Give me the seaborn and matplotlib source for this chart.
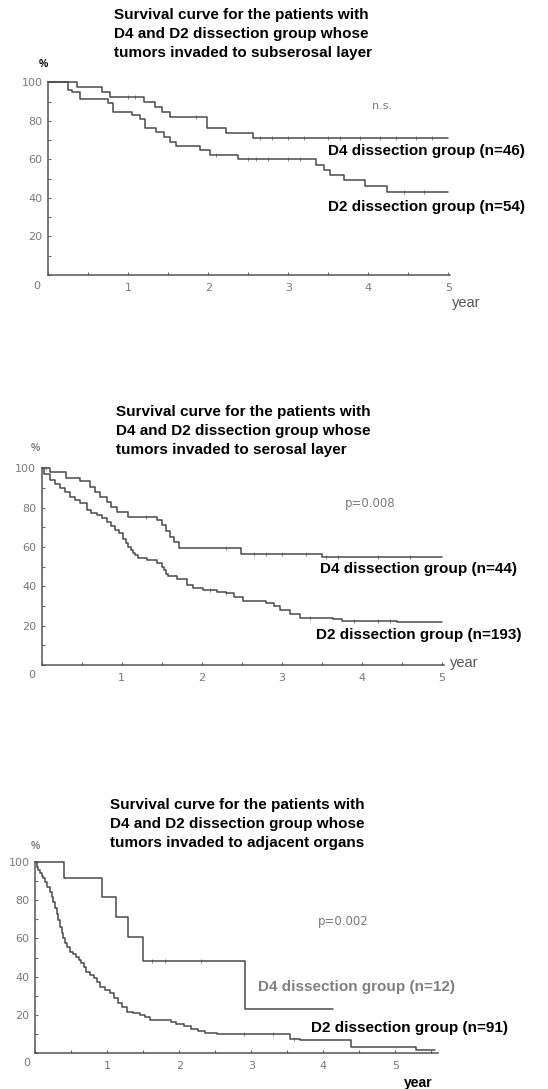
import matplotlib
matplotlib.use('Agg')
import matplotlib.pyplot as plt
import numpy as np
import seaborn as sns
from matplotlib.ticker import MultipleLocator

W, H = 548, 1089
LINE = '#4a4a4a'
GRAY = '#7a7a7a'

# panel 1 : subserosal layer
p1_d4_t = [0, 0.36, 0.67, 0.77, 1.19, 1.33, 1.42, 1.52, 1.98, 2.22, 2.56, 5.0]
p1_d4_s = [100, 97.7, 95.1, 92.5, 89.9, 87.3, 84.7, 82.2, 76.4, 73.8, 70.9, 70.9]
p1_d4_cens = [1.0, 1.08, 1.85, 2.65, 2.8, 3.0, 3.2, 3.5, 3.65, 3.9, 4.15, 4.35, 4.6, 4.8]
p1_d2_t = [0, 0.25, 0.29, 0.40, 0.74, 0.81, 1.04, 1.15, 1.21, 1.35, 1.44, 1.52, 1.60,
           1.90, 2.02, 2.37, 3.35, 3.45, 3.52, 3.69, 3.96, 4.23, 5.0]
p1_d2_s = [100, 96.0, 94.8, 91.2, 89.4, 84.4, 83.0, 80.8, 76.1, 74.4, 71.8, 69.2, 66.9,
           64.8, 62.3, 60.0, 57.1, 54.5, 51.9, 49.3, 46.2, 42.9, 42.9]
p1_d2_cens = [2.1, 2.5, 2.6, 2.75, 3.0, 3.15, 4.45, 4.7]

# panel 2 : serosal layer
p2_d4_t = [0, 0.10, 0.30, 0.48, 0.60, 0.67, 0.73, 0.81, 0.87, 0.94, 1.08, 1.44, 1.50,
           1.55, 1.60, 1.65, 1.72, 2.49, 3.5, 5.0]
p2_d4_s = [100, 98.0, 95.2, 93.5, 90.7, 88.1, 85.6, 83.0, 80.5, 77.6, 75.4, 73.7, 71.2,
           68.1, 65.2, 62.4, 59.6, 56.3, 55.1, 55.1]
p2_d4_cens = [0.05, 1.3, 2.3, 2.65, 2.8, 3.0, 3.3, 3.55, 3.7, 4.2, 4.6]
p2_d2_t = [0, 0.03, 0.10, 0.17, 0.23, 0.29, 0.35, 0.42, 0.48, 0.56, 0.62, 0.69, 0.75,
           0.81, 0.87, 0.92, 0.97, 1.02, 1.05, 1.08, 1.11, 1.14, 1.17, 1.20, 1.31, 1.44,
           1.50, 1.53, 1.55, 1.58, 1.69, 1.81, 1.89, 2.02, 2.19, 2.30, 2.40, 2.52, 2.80,
           2.90, 2.98, 3.10, 3.23, 3.64, 3.75, 4.44, 5.0]
p2_d2_s = [100, 97.0, 94.0, 92.0, 89.8, 87.7, 85.6, 84.0, 82.2, 78.8, 77.5, 76.3, 74.6,
           72.9, 70.8, 68.6, 66.9, 64.0, 62.0, 60.0, 58.5, 57.0, 55.8, 54.6, 53.4, 51.7,
           50.0, 48.3, 46.5, 45.3, 43.7, 40.7, 39.0, 38.1, 37.3, 36.4, 34.8, 32.7, 31.5,
           30.0, 28.0, 25.8, 24.0, 23.4, 22.5, 21.7, 21.7]
p2_d2_cens = [2.1, 2.3, 3.35, 3.9, 4.2, 4.35]

# panel 3 : adjacent organs
p3_d4_t = [0, 0.40, 0.92, 1.12, 1.29, 1.49, 2.91, 4.14]
p3_d4_s = [100, 91.6, 81.9, 71.1, 60.9, 48.3, 23.0, 23.0]
p3_d4_cens = [1.62, 1.8, 2.3]
p3_d2_t = [0, 0.02, 0.04, 0.06, 0.09, 0.11, 0.13, 0.16, 0.20, 0.23, 0.25, 0.27, 0.30,
           0.32, 0.34, 0.37, 0.39, 0.41, 0.44, 0.48, 0.52, 0.57, 0.61, 0.64, 0.68, 0.71,
           0.76, 0.81, 0.86, 0.90, 0.97, 1.04, 1.09, 1.15, 1.20, 1.27, 1.36, 1.45, 1.52,
           1.59, 1.88, 1.96, 2.06, 2.16, 2.26, 2.36, 2.52, 3.54, 3.68, 4.39, 5.29, 5.55]
p3_d2_s = [100, 97.7, 96.0, 94.2, 92.9, 91.6, 89.5, 87.2, 84.5, 81.9, 79.0, 75.8, 72.7,
           69.7, 66.2, 62.7, 60.0, 57.5, 55.3, 53.1, 51.8, 50.5, 48.8, 47.0, 44.8, 42.6,
           40.8, 39.1, 36.9, 34.7, 33.0, 31.3, 28.6, 26.0, 23.8, 21.6, 20.7, 19.8, 18.5,
           17.2, 16.2, 15.2, 13.9, 12.6, 11.4, 10.4, 9.7, 7.0, 6.7, 3.2, 1.5, 1.5]
p3_d2_cens = [2.9, 3.3, 3.6]

y_ticks = [20, 40, 60, 80, 100]
x_ticks = [1, 2, 3, 4, 5]

titles = [
    ['Survival curve for the patients with', 'D4 and D2 dissection group whose',
     'tumors invaded to subserosal layer'],
    ['Survival curve for the patients with', 'D4 and D2 dissection group whose',
     'tumors invaded to serosal layer'],
    ['Survival curve for the patients with', 'D4 and D2 dissection group whose',
     'tumors invaded to adjacent organs'],
]

sns.set_theme(style='white')
plt.rcParams['font.family'] = ['Liberation Sans', 'DejaVu Sans']


def px(x, y):
    return x / W, 1 - y / H


def surv_at(t, s, times):
    idx = np.searchsorted(t, times, side='right') - 1
    return np.asarray(s)[idx]


def draw_curve(ax, t, s, cens):
    sns.lineplot(x=t, y=s, ax=ax, drawstyle='steps-post', color=LINE, lw=1.1,
                 estimator=None, sort=False, clip_on=False)
    sns.scatterplot(x=cens, y=surv_at(t, s, cens), ax=ax, marker='|', s=6,
                    color='#777777', linewidth=0.6, clip_on=False)


def setup_axes(ax, xmax):
    ax.set_xlim(0, xmax)
    ax.set_ylim(0, 100)
    for side in ['top', 'right']:
        ax.spines[side].set_visible(False)
    for side in ['left', 'bottom']:
        ax.spines[side].set_color('#555555')
        ax.spines[side].set_linewidth(1.1)
    ax.set_xticks(x_ticks)
    ax.set_yticks(y_ticks)
    ax.xaxis.set_minor_locator(MultipleLocator(0.5))
    ax.yaxis.set_minor_locator(MultipleLocator(10))
    ax.tick_params(which='both', direction='in', length=2.5, width=0.8, color='#666666',
                   labelcolor=GRAY, labelsize=8, bottom=True, left=True)
    ax.tick_params(axis='x', pad=6)
    ax.tick_params(axis='y', pad=4)
    for lab in ax.get_xticklabels() + ax.get_yticklabels():
        lab.set_family('DejaVu Sans')
    ax.set_xlabel('')
    ax.set_ylabel('')


fig = plt.figure(figsize=(W / 100, H / 100), dpi=100)

# axes rectangles from pixel positions: (x0, xlim, px per year, y_bottom, y_top)
panels = [
    dict(x0=48.3, xmax=5.02, ppy=80.0, yb=275.0, yt=82.3,
         curves=[(p1_d4_t, p1_d4_s, p1_d4_cens), (p1_d2_t, p1_d2_s, p1_d2_cens)]),
    dict(x0=41.7, xmax=5.03, ppy=80.0, yb=665.0, yt=468.3,
         curves=[(p2_d4_t, p2_d4_s, p2_d4_cens), (p2_d2_t, p2_d2_s, p2_d2_cens)]),
    dict(x0=35.3, xmax=5.6, ppy=72.0, yb=1052.7, yt=862.3,
         curves=[(p3_d4_t, p3_d4_s, p3_d4_cens), (p3_d2_t, p3_d2_s, p3_d2_cens)]),
]

for p in panels:
    ax = fig.add_axes([p['x0'] / W, 1 - p['yb'] / H, p['xmax'] * p['ppy'] / W,
                       (p['yb'] - p['yt']) / H])
    ax.patch.set_alpha(0)
    for t, s, c in p['curves']:
        draw_curve(ax, t, s, c)
    setup_axes(ax, p['xmax'])

# titles
title_pos = [(114, 15), (116, 412), (110, 805)]
for lines, (tx, ty) in zip(titles, title_pos):
    for i, line in enumerate(lines):
        fig.text(*px(tx, ty + i * 19), line, ha='left', va='center', fontsize=11,
                 fontweight='bold', color='black')

# small axis annotations
fig.text(*px(43, 64), '%', ha='center', va='center', fontsize=7.5, fontweight='bold', color='black')
fig.text(*px(35, 448), '%', ha='center', va='center', fontsize=7.5, fontweight='bold', color=GRAY)
fig.text(*px(35, 846), '%', ha='center', va='center', fontsize=7.5, fontweight='bold', color=GRAY)
for zx, zy in [(37, 286), (32, 675), (27, 1063)]:
    fig.text(*px(zx, zy), '0', ha='center', va='center', fontsize=8, color=GRAY,
             family='DejaVu Sans')
fig.text(*px(452, 303), 'year', ha='left', va='center', fontsize=10.5, color='#555555')
fig.text(*px(450, 663), 'year', ha='left', va='center', fontsize=10.5, color='#555555')
fig.text(*px(404, 1083), 'year', ha='left', va='center', fontsize=10, fontweight='bold',
         color='black')

# statistics
fig.text(*px(382, 106), 'n.s.', ha='center', va='center', fontsize=8, color=GRAY,
         family='DejaVu Sans')
fig.text(*px(370, 503), 'p=0.008', ha='center', va='center', fontsize=8.5, color=GRAY,
         family='DejaVu Sans')
fig.text(*px(343, 922), 'p=0.002', ha='center', va='center', fontsize=8.5, color=GRAY,
         family='DejaVu Sans')

# group labels
labels = [
    (328, 151, 'D4 dissection group (n=46)', 'black'),
    (328, 207, 'D2 dissection group (n=54)', 'black'),
    (320, 569, 'D4 dissection group (n=44)', 'black'),
    (316, 635, 'D2 dissection group (n=193)', 'black'),
    (258, 987, 'D4 dissection group (n=12)', '#808080'),
    (311, 1028, 'D2 dissection group (n=91)', 'black'),
]
for lx, ly, txt, col in labels:
    fig.text(*px(lx, ly), txt, ha='left', va='center', fontsize=11, fontweight='bold',
             color=col)

plt.savefig('out.png', dpi=100)
